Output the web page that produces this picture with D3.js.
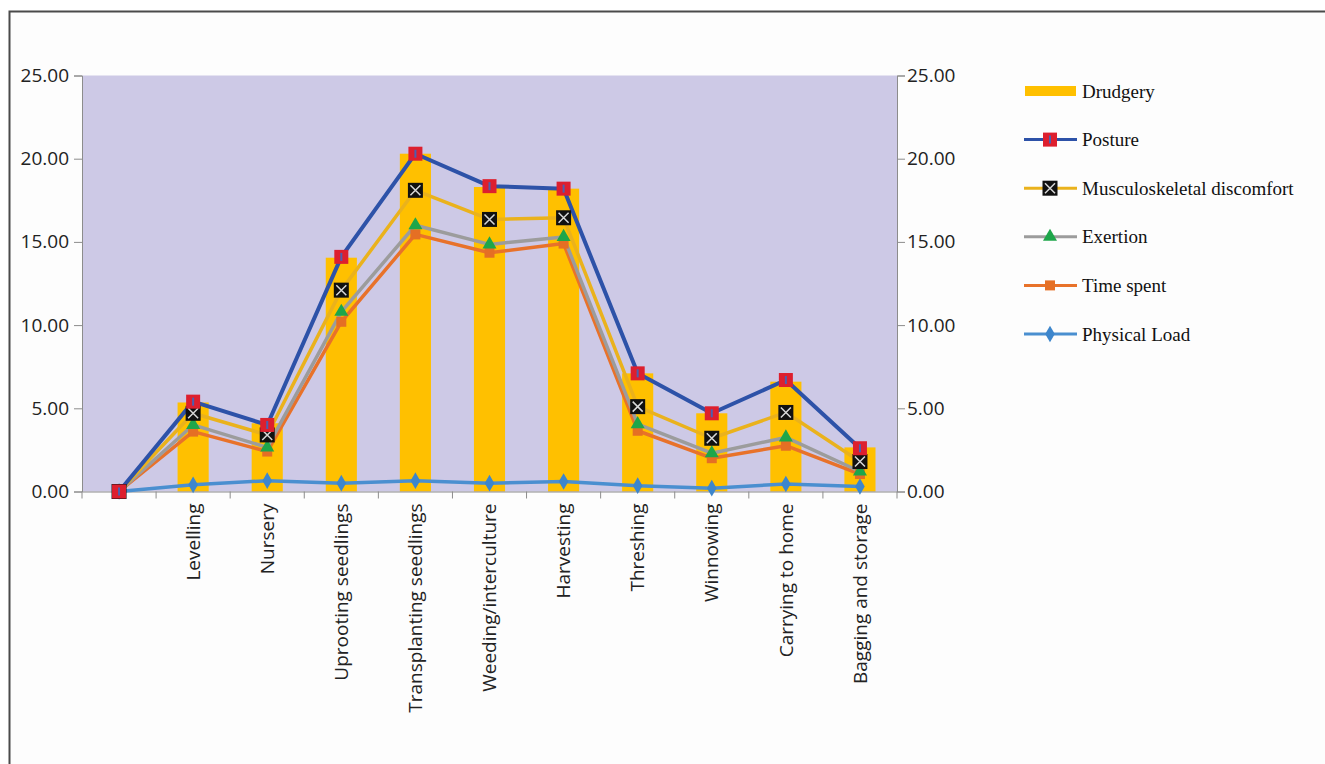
<!DOCTYPE html>
<html><head><meta charset="utf-8">
<script src="https://cdn.jsdelivr.net/npm/d3@7/dist/d3.min.js"></script>
<style>
body{margin:0;background:#fff;}
svg{display:block;}
</style></head>
<body><svg id="chart" width="1325" height="764"></svg>
<script>
const categories = ["", "Levelling", "Nursery", "Uprooting seedlings", "Transplanting seedlings", "Weeding/interculture", "Harvesting", "Threshing", "Winnowing", "Carrying to home", "Bagging and storage"];
const drudgery = [0, 5.35, 4.1, 14.05, 20.3, 18.3, 18.2, 7.1, 4.7, 6.6, 2.65];
const posture = [0, 5.4, 4.0, 14.1, 20.3, 18.35, 18.2, 7.1, 4.7, 6.7, 2.6];
const musculoskeletal = [0, 4.7, 3.4, 12.1, 18.1, 16.35, 16.45, 5.1, 3.2, 4.75, 1.8];
const exertion = [0, 4.0, 2.65, 10.8, 16.0, 14.85, 15.3, 4.05, 2.3, 3.25, 1.2];
const timeSpent = [0, 3.6, 2.4, 10.2, 15.45, 14.35, 14.9, 3.65, 2.0, 2.75, 1.05];
const physicalLoad = [0, 0.4, 0.65, 0.5, 0.65, 0.5, 0.6, 0.35, 0.2, 0.45, 0.3];
const yTicks = [0, 5, 10, 15, 20, 25];
const legendLabels = ["Drudgery", "Posture", "Musculoskeletal discomfort", "Exertion", "Time spent", "Physical Load"];

const svg = d3.select("#chart");
const pL = 82, pR = 897, pT = 75.5, pB = 491.5;

// outer frame
svg.append("rect").attr("x", 9.5).attr("y", 11.5).attr("width", 1340).attr("height", 800)
  .attr("fill", "#fdfdfd").attr("stroke", "#4a4a4a").attr("stroke-width", 2);

const x = d3.scaleBand().domain(d3.range(categories.length)).range([pL, pR]);
const y = d3.scaleLinear().domain([0, 25]).range([pB, pT]);

svg.append("rect").attr("x", pL).attr("y", pT).attr("width", pR - pL).attr("height", pB - pT)
  .attr("fill", "#cdc9e6");

// bars
const barW = x.bandwidth() * 0.42;
svg.append("g").selectAll("rect").data(drudgery).join("rect")
  .attr("x", (d, i) => x(i) + x.bandwidth() / 2 - barW / 2)
  .attr("y", d => y(d)).attr("width", barW).attr("height", d => y(0) - y(d))
  .attr("fill", "#ffc000");

// axes
const fmt = d3.format(".2f");
const tickFont = "'Open Sans', 'Liberation Sans', sans-serif";
const yl = svg.append("g").attr("transform", `translate(${pL},0)`)
  .call(d3.axisLeft(y).tickValues(yTicks).tickFormat(fmt).tickSizeOuter(0).tickSize(8).tickPadding(6));
const yr = svg.append("g").attr("transform", `translate(${pR},0)`)
  .call(d3.axisRight(y).tickValues(yTicks).tickFormat(fmt).tickSizeOuter(0).tickSize(8).tickPadding(6));
[yl, yr].forEach(g => {
  g.selectAll("path,line").attr("stroke", "#8c8c8c");
  g.selectAll("text").attr("font-family", tickFont).attr("font-size", 19).attr("fill", "#222");
});
yl.selectAll("text").attr("x", -13);
yr.selectAll("text").attr("x", 10);

const xa = svg.append("g").attr("transform", `translate(0,${pB})`)
  .call(d3.axisBottom(x).tickFormat(i => categories[i]).tickSize(0).tickSizeOuter(0));
xa.select("path").attr("stroke", "#8c8c8c");
xa.selectAll("text").attr("font-family", tickFont).attr("font-size", 19).attr("fill", "#222")
  .attr("transform", "rotate(-90)").attr("text-anchor", "end").attr("x", -12).attr("y", 0).attr("dy", "0.35em");
// category boundary ticks
svg.append("g").selectAll("line").data(d3.range(categories.length + 1)).join("line")
  .attr("x1", i => pL + i * x.step()).attr("x2", i => pL + i * x.step())
  .attr("y1", pB).attr("y2", pB + 7).attr("stroke", "#8c8c8c");

const cx = i => x(i) + x.bandwidth() / 2;
const line = d3.line().x((d, i) => cx(i)).y(d => y(d));

const series = [
  {data: physicalLoad, color: "#4a8fd0", w: 3.5, marker: "diamond"},
  {data: timeSpent, color: "#e8722a", w: 3.5, marker: "osq"},
  {data: exertion, color: "#9c9c9c", w: 3.5, marker: "tri"},
  {data: musculoskeletal, color: "#eab21c", w: 3.5, marker: "xsq"},
  {data: posture, color: "#2d52a8", w: 4, marker: "rsq"}
];

function drawMarker(g, type, px, py) {
  if (type === "diamond") {
    g.append("path").attr("d", d3.symbol(d3.symbolDiamond, 80)()).attr("transform", `translate(${px},${py})`)
      .attr("fill", "#3d86cc");
  } else if (type === "osq") {
    g.append("rect").attr("x", px - 5).attr("y", py - 5).attr("width", 10).attr("height", 10).attr("fill", "#e56f24");
  } else if (type === "tri") {
    g.append("path").attr("d", d3.symbol(d3.symbolTriangle, 85)()).attr("transform", `translate(${px},${py})`)
      .attr("fill", "#1ea64a");
  } else if (type === "xsq") {
    g.append("rect").attr("x", px - 7.5).attr("y", py - 7.5).attr("width", 15).attr("height", 15).attr("fill", "#111");
    g.append("path").attr("d", `M${px-5},${py-5}L${px+5},${py+5}M${px+5},${py-5}L${px-5},${py+5}`)
      .attr("stroke", "#d8d8d8").attr("stroke-width", 1.5);
  } else if (type === "rsq") {
    g.append("rect").attr("x", px - 7).attr("y", py - 7).attr("width", 14).attr("height", 14).attr("fill", "#dd1f2e");
    g.append("line").attr("x1", px).attr("x2", px).attr("y1", py - 4).attr("y2", py + 4)
      .attr("stroke", "#4b5fb0").attr("stroke-width", 2);
  }
}

series.forEach(s => {
  svg.append("path").datum(s.data).attr("d", line).attr("fill", "none")
    .attr("stroke", s.color).attr("stroke-width", s.w).attr("stroke-linejoin", "round");
});
series.forEach(s => {
  const g = svg.append("g");
  s.data.forEach((d, i) => drawMarker(g, s.marker, cx(i), y(d)));
});

// legend
const lg = svg.append("g");
const legendY = d3.scalePoint().domain(legendLabels).range([91, 334]);
const legendStyle = {
  "Drudgery": {color: "#ffc000", marker: null},
  "Posture": {color: "#2d52a8", marker: "rsq"},
  "Musculoskeletal discomfort": {color: "#eab21c", marker: "xsq"},
  "Exertion": {color: "#9c9c9c", marker: "tri"},
  "Time spent": {color: "#e8722a", marker: "osq"},
  "Physical Load": {color: "#4a8fd0", marker: "diamond"}
};
legendLabels.forEach(name => {
  const ly = legendY(name), st = legendStyle[name];
  if (!st.marker) {
    lg.append("rect").attr("x", 1025).attr("y", ly - 5).attr("width", 51).attr("height", 10).attr("fill", st.color);
  } else {
    lg.append("line").attr("x1", 1024).attr("x2", 1077).attr("y1", ly).attr("y2", ly)
      .attr("stroke", st.color).attr("stroke-width", 3);
    const g = lg.append("g");
    drawMarker(g, st.marker, 1050, ly);
  }
  lg.append("text").attr("x", 1082).attr("y", ly).attr("dy", "0.35em")
    .attr("font-family", "'Liberation Serif', 'Times New Roman', serif").attr("font-size", 19).attr("fill", "#111")
    .text(name);
});
</script></body></html>
